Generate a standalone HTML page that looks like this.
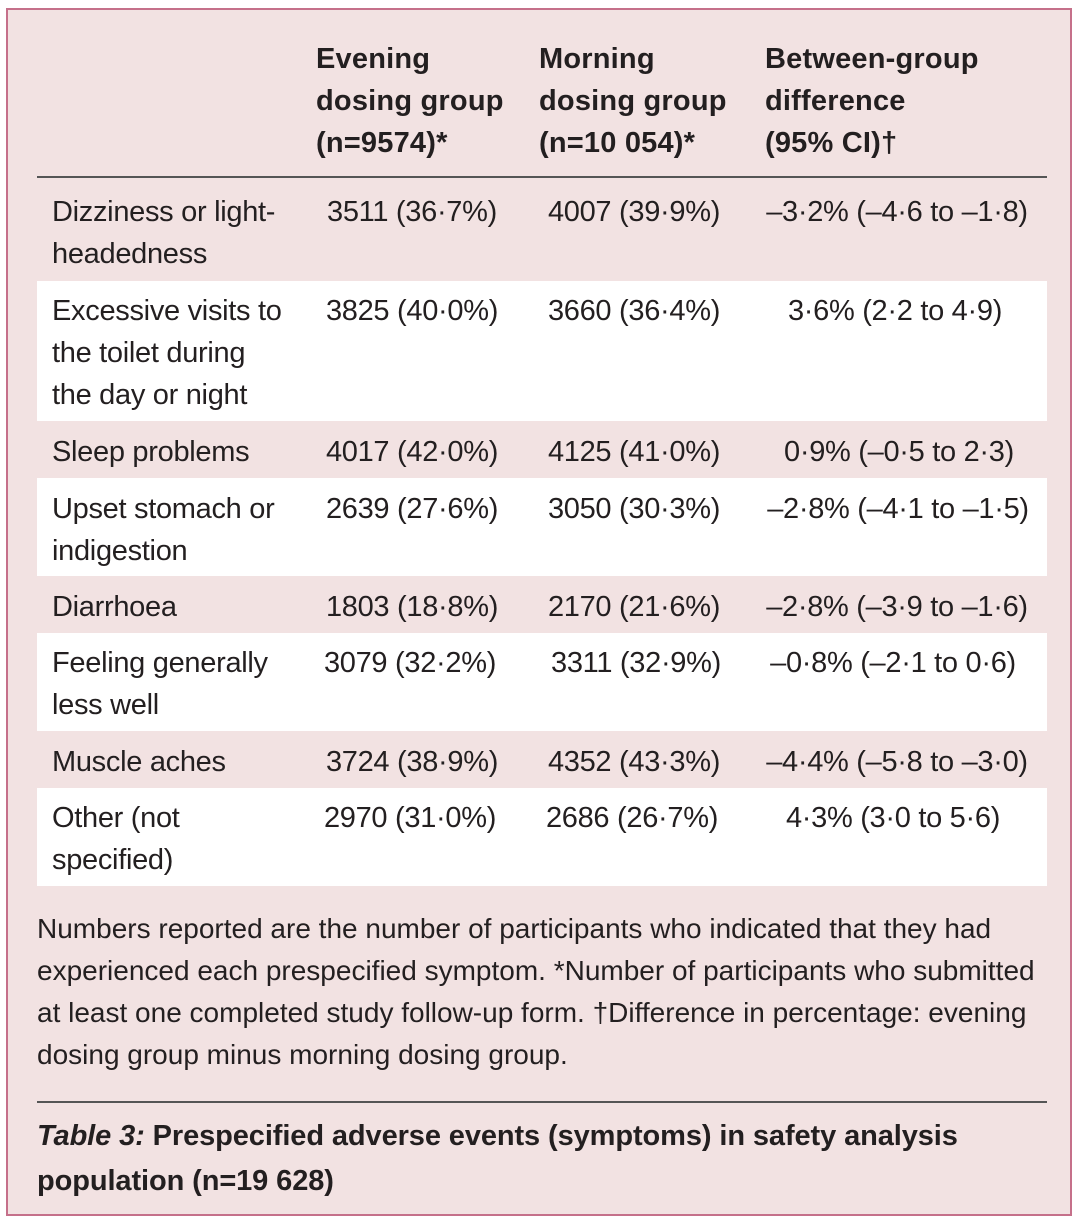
<!DOCTYPE html>
<html><head><meta charset="utf-8"><style>
body{margin:0;width:1080px;height:1224px;background:#fff;font-family:"Liberation Sans",sans-serif;color:#231f20;position:relative;overflow:hidden}
#box{position:absolute;left:6px;top:8px;width:1066px;height:1208px;background:#f2e2e2;border:2px solid #c5708a;box-sizing:border-box}
.t{position:absolute;font-size:29px;letter-spacing:-0.3px;white-space:nowrap;line-height:42px}
.b{font-weight:bold;letter-spacing:0.2px}
.c{transform:translateX(-50%)}
.row{position:absolute;left:37px;width:1010px;background:#fff}
.hr{position:absolute;left:37px;width:1010px;height:1.5px;background:#555}
</style></head><body>
<div id="box"></div>
<div class="t b" style="left:316px;top:38px">Evening<br>dosing group<br>(n=9574)*</div>
<div class="t b" style="left:539px;top:38px">Morning<br>dosing group<br>(n=10 054)*</div>
<div class="t b" style="left:765px;top:38px">Between-group<br>difference<br>(95% CI)†</div>
<div class="hr" style="top:176px"></div>
<div class="row" style="top:281px;height:140px"></div>
<div class="row" style="top:478px;height:98px"></div>
<div class="row" style="top:633px;height:98px"></div>
<div class="row" style="top:788px;height:98px"></div>

<div class="t" style="left:52px;top:191px">Dizziness or light-<br>headedness</div>
<div class="t c" style="left:412px;top:191px">3511 (36·7%)</div>
<div class="t c" style="left:634px;top:191px">4007 (39·9%)</div>
<div class="t c" style="left:897px;top:191px">–3·2% (–4·6 to –1·8)</div>

<div class="t" style="left:52px;top:290px">Excessive visits to<br>the toilet during<br>the day or night</div>
<div class="t c" style="left:412px;top:290px">3825 (40·0%)</div>
<div class="t c" style="left:634px;top:290px">3660 (36·4%)</div>
<div class="t c" style="left:895px;top:290px">3·6% (2·2 to 4·9)</div>

<div class="t" style="left:52px;top:431px">Sleep problems</div>
<div class="t c" style="left:412px;top:431px">4017 (42·0%)</div>
<div class="t c" style="left:634px;top:431px">4125 (41·0%)</div>
<div class="t c" style="left:899px;top:431px">0·9% (–0·5 to 2·3)</div>

<div class="t" style="left:52px;top:488px">Upset stomach or<br>indigestion</div>
<div class="t c" style="left:412px;top:488px">2639 (27·6%)</div>
<div class="t c" style="left:634px;top:488px">3050 (30·3%)</div>
<div class="t c" style="left:898px;top:488px">–2·8% (–4·1 to –1·5)</div>

<div class="t" style="left:52px;top:586px">Diarrhoea</div>
<div class="t c" style="left:412px;top:586px">1803 (18·8%)</div>
<div class="t c" style="left:634px;top:586px">2170 (21·6%)</div>
<div class="t c" style="left:897px;top:586px">–2·8% (–3·9 to –1·6)</div>

<div class="t" style="left:52px;top:642px">Feeling generally<br>less well</div>
<div class="t c" style="left:410px;top:642px">3079 (32·2%)</div>
<div class="t c" style="left:636px;top:642px">3311 (32·9%)</div>
<div class="t c" style="left:893px;top:642px">–0·8% (–2·1 to 0·6)</div>

<div class="t" style="left:52px;top:741px">Muscle aches</div>
<div class="t c" style="left:412px;top:741px">3724 (38·9%)</div>
<div class="t c" style="left:634px;top:741px">4352 (43·3%)</div>
<div class="t c" style="left:897px;top:741px">–4·4% (–5·8 to –3·0)</div>

<div class="t" style="left:52px;top:797px">Other (not<br>specified)</div>
<div class="t c" style="left:410px;top:797px">2970 (31·0%)</div>
<div class="t c" style="left:632px;top:797px">2686 (26·7%)</div>
<div class="t c" style="left:893px;top:797px">4·3% (3·0 to 5·6)</div>

<div class="t" style="left:37px;top:908px;font-size:28px;letter-spacing:0px">Numbers reported are the number of participants who indicated that they had<br>experienced each prespecified symptom. *Number of participants who submitted<br>at least one completed study follow-up form. †Difference in percentage: evening<br>dosing group minus morning dosing group.</div>
<div class="hr" style="top:1101px"></div>
<div class="t b" style="left:37px;top:1114px;line-height:45px;font-size:29px;letter-spacing:-0.1px"><i>Table 3:</i> Prespecified adverse events (symptoms) in safety analysis<br>population (n=19 628)</div>
</body></html>
